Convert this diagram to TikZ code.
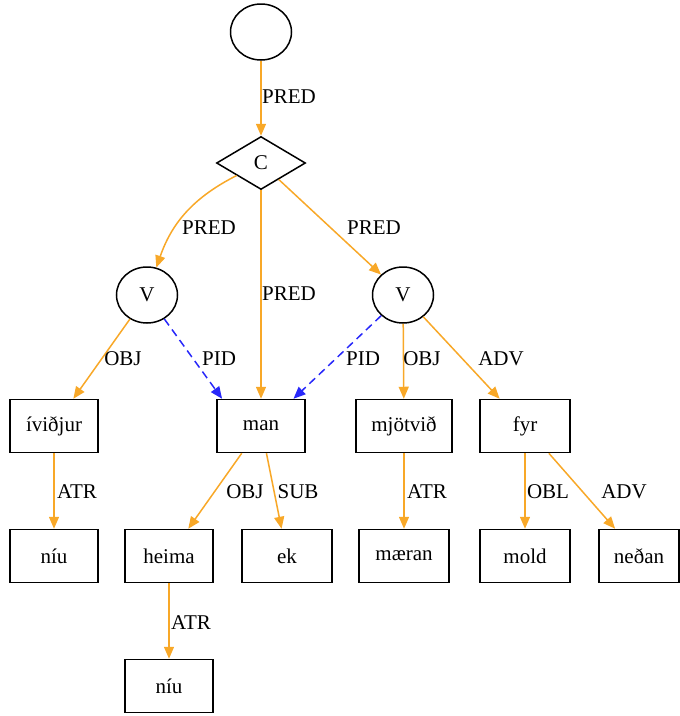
\documentclass[tikz,border=0pt]{standalone}
\usepackage{fontspec}
\setmainfont{Liberation Serif}
\usetikzlibrary{shapes.geometric, arrows.meta}
\definecolor{deporange}{RGB}{248,168,40}
\definecolor{pidblue}{RGB}{40,40,250}

\begin{document}
\begin{tikzpicture}[x=1pt, y=-1pt,
        font=\fontsize{21}{25}\selectfont,
        wbox/.style={rectangle, draw, line width=1.5pt, minimum width=88pt, minimum height=53pt, inner sep=0pt},
        vnode/.style={ellipse, draw, line width=1.5pt, minimum width=61pt, minimum height=56pt, inner sep=0pt},
        dep/.style={draw=deporange, line width=1.5pt, -{Triangle[length=12pt, width=10pt]}},
        pid/.style={draw=pidblue, line width=1.5pt, dash pattern=on 8pt off 5pt, -{Triangle[length=12pt, width=10pt]}},
        lbl/.style={inner sep=1pt}]
        \useasboundingbox (0,0) rectangle (680,716);

        % Nodes
        \node[vnode] (root) at (261,32) {};
        \node[diamond, draw, line width=1.5pt, minimum width=89pt, minimum height=53pt, inner sep=0pt] (C) at (261,163) {C};
        \node[vnode] (Vl) at (147,295) {V};
        \node[vnode] (Vr) at (403,295) {V};
        \node[wbox] (ividjur) at (54,426) {íviðjur};
        \node[wbox] (man) at (261,426) {man};
        \node[wbox, minimum width=96pt] (mjotvid) at (404,426) {mjötvið};
        \node[wbox, minimum width=90pt] (fyr) at (525,426) {fyr};
        \node[wbox] (niuA) at (54,556) {níu};
        \node[wbox] (heima) at (169,556) {heima};
        \node[wbox, minimum width=90pt] (ek) at (287,556) {ek};
        \node[wbox, minimum width=90pt] (maeran) at (404,556) {mæran};
        \node[wbox, minimum width=90pt] (mold) at (525,556) {mold};
        \node[wbox, minimum width=80pt] (nedan) at (639,556) {neðan};
        \node[wbox] (niuB) at (169,686) {níu};

        % Edges
        \draw[dep] (root) -- (C);
        \draw[dep] (C) to[bend right=22] (Vl);
        \draw[dep] (C) -- (man);
        \draw[dep] (C) -- (Vr);
        \draw[dep] (Vl) -- (ividjur);
        \draw[pid] (Vl) -- (man.145);
        \draw[pid] (Vr) -- (man.40);
        \draw[dep] (Vr) -- (mjotvid);
        \draw[dep] (Vr) -- (fyr);
        \draw[dep] (ividjur) -- (niuA);
        \draw[dep] (man) -- (heima);
        \draw[dep] (man) -- (ek);
        \draw[dep] (mjotvid) -- (maeran);
        \draw[dep] (fyr) -- (mold);
        \draw[dep] (fyr) -- (nedan);
        \draw[dep] (heima) -- (niuB);

        % Labels
        \node[lbl] (lRootC) at (289,97) {PRED};
        \node[lbl] (lCVl) at (209,228) {PRED};
        \node[lbl] (lCman) at (289,294) {PRED};
        \node[lbl] (lCVr) at (374,228) {PRED};
        \node[lbl] (lVlObj) at (123,359) {OBJ};
        \node[lbl] (lVlPid) at (219,359) {PID};
        \node[lbl] (lVrPid) at (363,359) {PID};
        \node[lbl] (lVrObj) at (422,359) {OBJ};
        \node[lbl] (lVrAdv) at (501,359) {ADV};
        \node[lbl] (lAtrA) at (77,492) {ATR};
        \node[lbl] (lManObj) at (245,492) {OBJ};
        \node[lbl] (lManSub) at (298,492) {SUB};
        \node[lbl] (lAtrB) at (427,492) {ATR};
        \node[lbl] (lFyrObl) at (548,492) {OBL};
        \node[lbl] (lFyrAdv) at (624,492) {ADV};
        \node[lbl] (lAtrC) at (191,623) {ATR};
    \end{tikzpicture}
\end{document}
